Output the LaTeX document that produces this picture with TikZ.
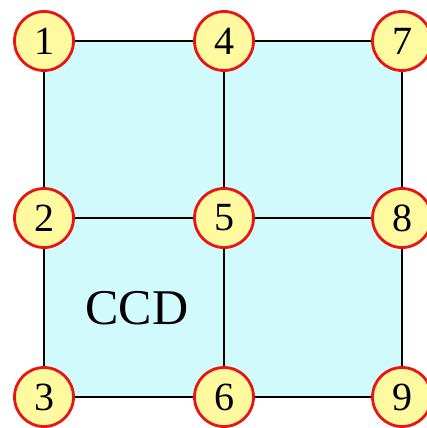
\documentclass[tikz,border=0pt]{standalone}
\usepackage{fontspec}
\setmainfont{Liberation Serif}
\definecolor{cellcyan}{RGB}{208,250,252}
\definecolor{nodeyellow}{RGB}{255,250,160}
\definecolor{nodered}{RGB}{235,20,20}
\begin{document}
\begin{tikzpicture}[x=1pt,y=-1pt,
  pt/.style={circle,draw=nodered,fill=nodeyellow,line width=2.8pt,minimum size=59pt,inner sep=0pt,
    font=\fontsize{40}{40}\selectfont},
  edge/.style={draw=black,line width=2.6pt}]
\useasboundingbox (0,0) rectangle (427,428);
\fill[cellcyan] (44,41) rectangle (401,397);
\node[pt] (n1) at (44,41) {1};
\node[pt] (n4) at (224,41) {4};
\node[pt] (n7) at (402,41) {7};
\node[pt] (n2) at (44,218) {2};
\node[pt] (n5) at (224,218) {5};
\node[pt] (n8) at (402,218) {8};
\node[pt] (n3) at (44,397) {3};
\node[pt] (n6) at (224,397) {6};
\node[pt] (n9) at (402,397) {9};
\path[edge] (n1) -- (n4) (n4) -- (n7) (n2) -- (n5) (n5) -- (n8) (n3) -- (n6) (n6) -- (n9)
  (n1) -- (n2) (n2) -- (n3) (n4) -- (n5) (n5) -- (n6) (n7) -- (n8) (n8) -- (n9);
\node[font=\fontsize{50}{50}\selectfont] (ccd) at (137,308) {CCD};
\end{tikzpicture}
\end{document}
